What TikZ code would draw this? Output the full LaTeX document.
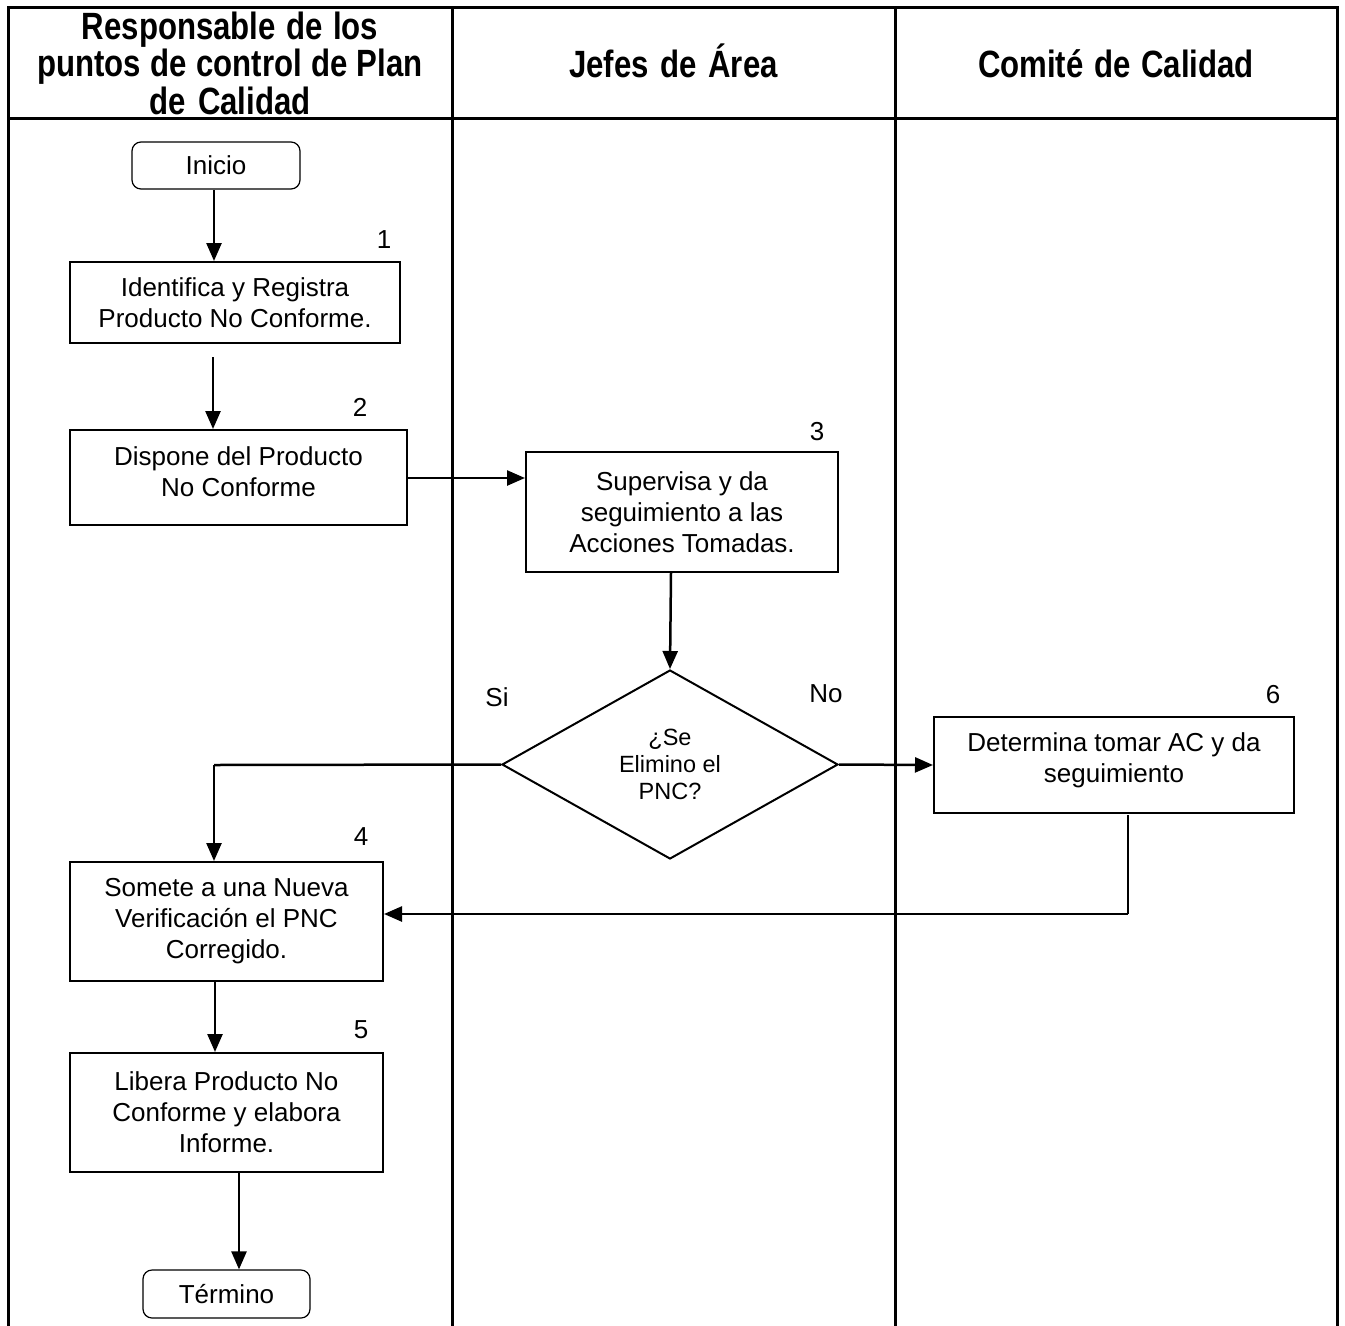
\documentclass[tikz,border=0pt]{standalone}
\usepackage{fontspec}
\setmainfont{Liberation Sans}
\newfontfamily\hdrfont{Liberation Sans}[FakeStretch=0.82]
\newcommand\hdrspacing{\spaceskip=8.7pt plus 2pt minus 1pt\relax}
\usetikzlibrary{arrows.meta,shapes.geometric}
\begin{document}
\begin{tikzpicture}[x=1pt,y=-1pt,
  frameline/.style={line width=3pt},
  hdr/.style={font=\hdrfont\fontsize{38}{37.5}\selectfont\bfseries, align=center, text width=430pt, inner sep=0pt, execute at begin node=\hdrspacing},
  procbox/.style={draw, line width=2pt, align=center, font=\fontsize{26}{31}\selectfont, inner sep=0pt},
  bodytxt/.style={align=center, font=\fontsize{26}{31}\selectfont, inner sep=0pt},
  termbox/.style={draw, line width=1.2pt, rounded corners=9pt, align=center, font=\fontsize{26}{31}\selectfont, inner sep=0pt},
  decbox/.style={draw, line width=2pt, diamond, aspect=1.78, inner sep=0pt, align=center, font=\fontsize{23.5}{27}\selectfont},
  numlbl/.style={font=\fontsize{26}{31}\selectfont, inner sep=0pt},
  conn/.style={line width=2.5pt},
  arr/.style={line width=2.5pt, -{Triangle[length=18pt,width=15pt]}}
]
\useasboundingbox (0,0) rectangle (1345,1326);
% swimlane frame
\draw[frameline] (8,1330) -- (8,7) -- (1337,7) -- (1337,1330);
\draw[frameline] (8,118) -- (1337,118);
\draw[frameline] (452,7) -- (452,1330);
\draw[frameline] (895,7) -- (895,1330);
% headers
\node[hdr] (h1) at (230,63) {Responsable de los\\puntos de control de Plan\\de Calidad};
\node[hdr, anchor=base] (h2) at (673.5,77) {Jefes de Área};
\node[hdr, anchor=base] (h3) at (1116,77) {Comité de Calidad};
% nodes
\node[termbox, minimum width=168pt, minimum height=47pt] (ini) at (216,165.5) {Inicio};
\node[procbox, minimum width=330pt, minimum height=81pt] (b1) at (235,302.5) {Identifica y Registra\\Producto No Conforme.};
\node[procbox, minimum width=337pt, minimum height=95pt] (b2) at (238.5,477.5) {};
\node[bodytxt] (b2t) at (238.5,471.5) {Dispone del Producto\\No Conforme};
\node[procbox, minimum width=312pt, minimum height=120pt] (b3) at (682,512) {Supervisa y da\\seguimiento a las\\Acciones Tomadas.};
\node[decbox, minimum width=336pt, minimum height=189pt] (d) at (670,764.5) {¿Se\\Elimino el\\PNC?};
\node[procbox, minimum width=360pt, minimum height=96pt] (b6) at (1114,765) {};
\node[bodytxt] (b6t) at (1114,760) {Determina tomar AC y da\\seguimiento};
\node[procbox, minimum width=313pt, minimum height=119pt] (b4) at (226.5,921.5) {Somete a una Nueva\\Verificación el PNC\\Corregido.};
\node[procbox, minimum width=313pt, minimum height=119pt] (b5) at (226.5,1112.5) {Libera Producto No\\Conforme y elabora\\Informe.};
\node[termbox, minimum width=167pt, minimum height=48pt] (fin) at (226.5,1294) {Término};
% numbers and labels
\node[numlbl] (n1) at (384,240) {1};
\node[numlbl] (n2) at (360,407) {2};
\node[numlbl] (n3) at (817,432) {3};
\node[numlbl] (n4) at (361,837) {4};
\node[numlbl] (n5) at (361,1030) {5};
\node[numlbl] (n6) at (1273,695) {6};
\node[numlbl] (si) at (497,697) {Si};
\node[numlbl] (no) at (826,694) {No};
% helper coordinates
\coordinate (c1) at (214,190);
\coordinate (c2) at (213,357);
\coordinate (c3) at (214,765);
\coordinate (c4) at (1128,815);
\coordinate (c5) at (1128,914);
\coordinate (c6) at (215,982);
\coordinate (c7) at (239,1173);
\coordinate (c8) at (407,478);
% connectors
\draw[arr] (c1) -- (c1 |- b1.north);
\draw[arr] (c2) -- (c2 |- b2.north);
\draw[arr] (c8) -- (c8 -| b3.west);
\draw[arr] (b3.south -| 671,0) -- (d.north);
\draw[conn] (d.west) -- (c3);
\draw[arr] (c3) -- (c3 |- b4.north);
\draw[arr] (d.east) -- (b6.west);
\draw[conn] (c4) -- (c5);
\draw[arr] (c5) -- (c5 -| b4.east);
\draw[arr] (c6) -- (c6 |- b5.north);
\draw[arr] (c7) -- (c7 |- fin.north);
\end{tikzpicture}
\end{document}
